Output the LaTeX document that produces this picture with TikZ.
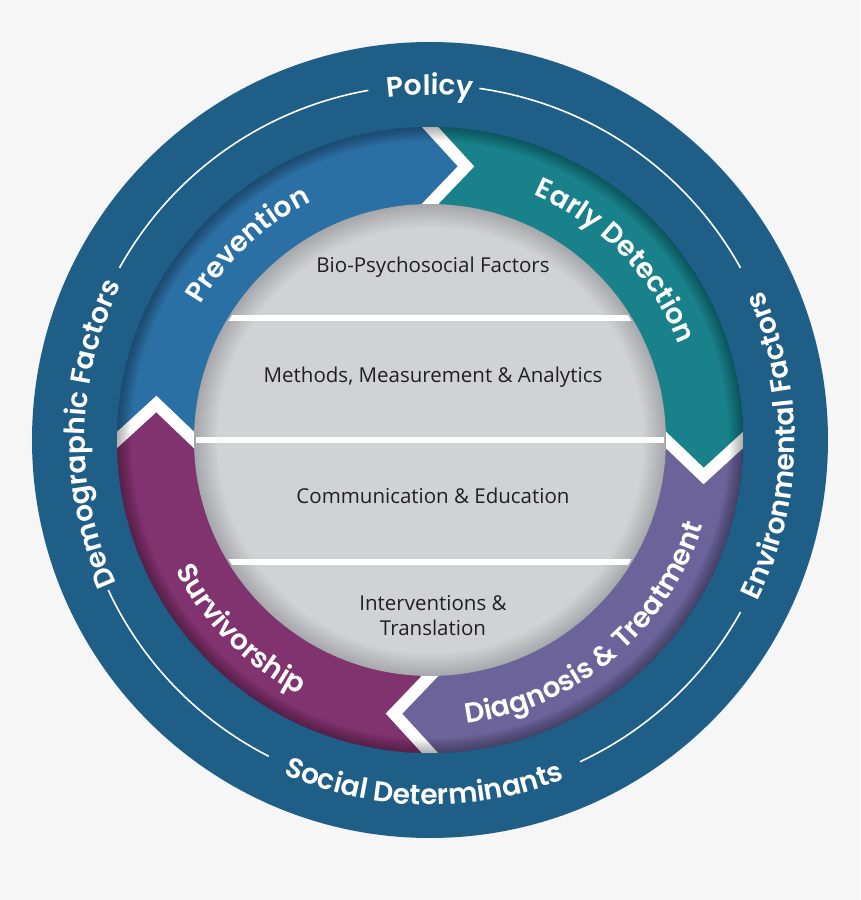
\documentclass[tikz,border=0pt]{standalone}
\usepackage{fontspec}
\setmainfont{Open Sans}
\newfontfamily\labelfont{Poppins SemiBold}
\usetikzlibrary{decorations.text}

\definecolor{pagebg}{HTML}{F6F6F6}
\definecolor{bandblue}{HTML}{1F5E86}
\definecolor{prevblue}{HTML}{2B70A4}
\definecolor{detteal}{HTML}{19818A}
\definecolor{diagpurple}{HTML}{6B6399}
\definecolor{survplum}{HTML}{80336F}
\definecolor{coregray}{HTML}{D1D2D4}
\definecolor{coreshade}{HTML}{A6A7AA}
\definecolor{inktext}{HTML}{231F20}

\pgfdeclareradialshading{coreshading}{\pgfpointorigin}{color(0bp)=(coregray); color(22.5bp)=(coregray); color(25bp)=(coreshade); color(50bp)=(coreshade)}

\newcommand{\ringfont}{\labelfont\fontsize{28}{28}\selectfont}
% one quarter of the ring, from angle #1 clockwise to #1-90
\newcommand{\ringpart}[2]{%
  \fill[#2] (#1:313) arc[start angle=#1, end angle=#1-90, radius=313]
    -- (#1-97.5:276) -- (#1-90:236)
    arc[start angle=#1-90, end angle=#1, radius=236]
    -- (#1-7.5:276) -- cycle;}

\begin{document}
\begin{tikzpicture}[x=1pt, y=1pt,
  outer band/.style={fill=bandblue},
  guide line/.style={draw=white, line width=1.6},
  chevron gap/.style={draw=white, line width=12, line join=miter, line cap=rect},
  core line/.style={draw=white, line width=6},
  core text/.style={font=\fontsize{20.5}{25}\selectfont, text=inktext, align=center},
  ring label/.style={decorate, decoration={text along path, text align=center, text color=white, text={|\ringfont|#1}}}]
\useasboundingbox[fill=pagebg] (-430,-460) rectangle (430,440);

\fill[outer band] (0,0) circle (398); % outer band
\foreach \a/\b in {100/151, 205/243, 295/331, 29/82}
  \draw[guide line] (\a:355) arc[start angle=\a, end angle=\b, radius=355]; % thin white circle, broken at the labels

\path[ring label={Policy}] (110:345) arc[start angle=110, end angle=70, radius=345];
\path[ring label={Demographic Factors}] (219:345) arc[start angle=219, end angle=139, radius=345];
\path[ring label={Environmental Factors}] (-41:365) arc[start angle=-41, end angle=39, radius=365];
\path[ring label={Social Determinants}] (229:365) arc[start angle=229, end angle=309, radius=365];

\begin{scope}
  \clip (0,0) circle (313);
  \ringpart{180}{prevblue}
  \ringpart{90}{detteal}
  \ringpart{0}{diagpurple}
  \ringpart{-90}{survplum}
  \foreach \b in {90,0,-90,180}
    \draw[chevron gap] (\b:313) -- (\b-7.5:276) -- (\b:236); % white chevrons
  \foreach \i in {1,...,14}
    \draw[black, opacity=.022, line width=2*\i] (0,0) circle (313); % dark rim of the ring
\end{scope}

\shade[shading=coreshading] (0,0) circle (236); % grey core
\begin{scope}
  \clip (0,0) circle (234);
  \foreach \h in {122,0,-122}
    \draw[core line] (-240,\h) -- (240,\h);
\end{scope}

\node[core text] (bio) at (3,173) {Bio-Psychosocial Factors};
\node[core text] (methods) at (3,63) {Methods, Measurement \& Analytics};
\node[core text] (comm) at (3,-56) {Communication \& Education};
\node[core text] (interv) at (3,-176) {Interventions \&\\Translation};

\path[ring label={Prevention}] (163:266) arc[start angle=163, end angle=103, radius=266];
\path[ring label={Early Detection}] (79:266) arc[start angle=79, end angle=9, radius=266];
\path[ring label={Diagnosis {\&} Treatment}] (265:286) arc[start angle=265, end angle=355, radius=286];
\path[ring label={Survivorship}] (190:286) arc[start angle=190, end angle=260, radius=286];
\end{tikzpicture}
\end{document}
